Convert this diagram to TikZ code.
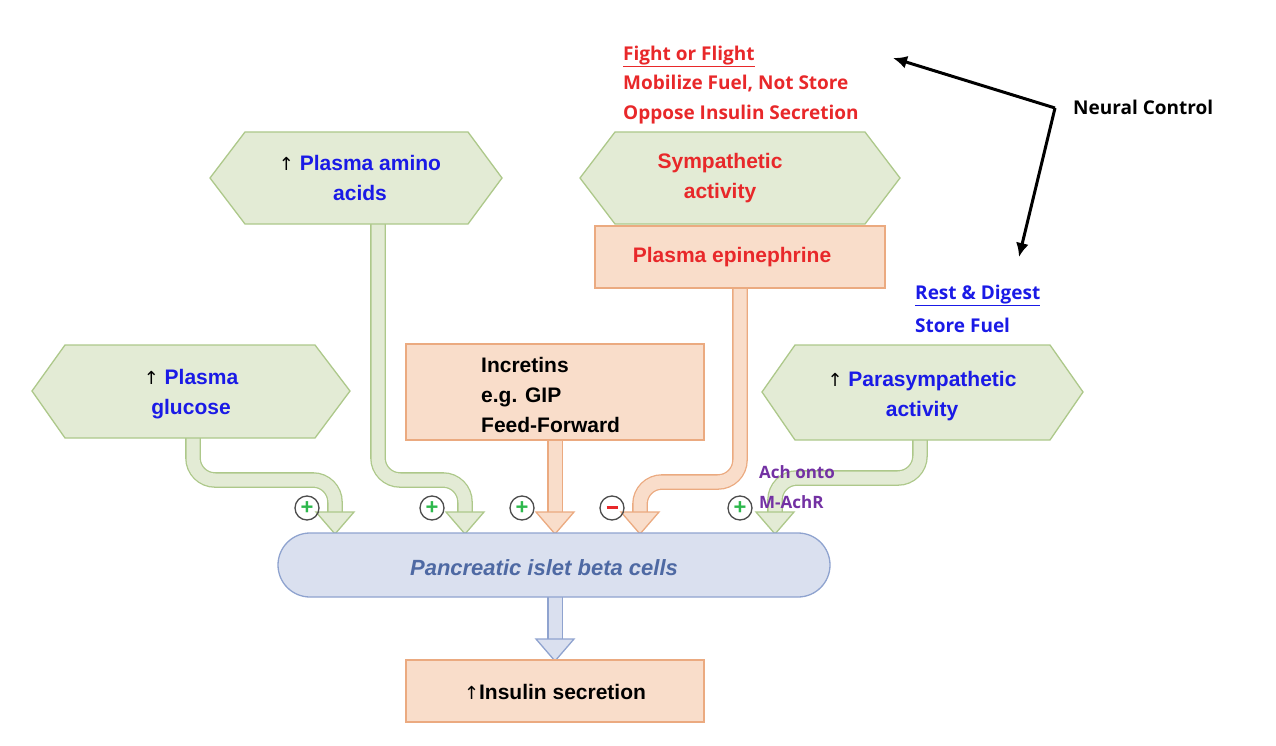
\documentclass[tikz,border=0pt]{standalone}
\usetikzlibrary{arrows.meta}
\usepackage{fontspec}
\setmainfont{Liberation Sans}
\newfontfamily\osans{Open Sans}
\newfontfamily\djv{DejaVu Sans}
\begin{document}
\begin{tikzpicture}[x=1pt,y=-1pt,
  txt/.style={font=\fontsize{21}{30}\selectfont\bfseries,align=center,inner sep=0},
  otxt/.style={font=\osans\fontsize{19}{29.5}\selectfont\bfseries,align=left,inner sep=0,anchor=west},
  grn/.style={fill=gfill,draw=gline,line width=1.3pt},
  org/.style={fill=ofill,draw=oline,line width=1.3pt},
  gshaft/.style={draw=gline,double=gfill,double distance=13pt,line width=1.3pt,rounded corners=22pt},
  oshaft/.style={draw=oline,double=ofill,double distance=13pt,line width=1.3pt,rounded corners=22pt},
  sgn/.style={circle,draw=black!70,line width=1.3pt,minimum size=24pt,inner sep=0}]
\definecolor{gfill}{HTML}{E3EBD5}\definecolor{gline}{HTML}{ADC88A}
\definecolor{ofill}{HTML}{F9DDCA}\definecolor{oline}{HTML}{EBAA80}
\definecolor{bfill}{HTML}{DAE0EF}\definecolor{bline}{HTML}{8FA3CF}
\definecolor{tblue}{HTML}{1A1AE6}\definecolor{tred}{HTML}{E8282A}
\definecolor{tpurp}{HTML}{7331A3}\definecolor{btxt}{HTML}{4E69A3}
\definecolor{pgreen}{HTML}{2DB84C}
\useasboundingbox (0,0) rectangle (1276,746);
% shafts
\draw[gshaft] (193,438) -- (193,480) -- (335,480) -- (335,516);
\draw[gshaft] (378,224) -- (378,480) -- (465,480) -- (465,516);
\draw[oshaft] (555,440) -- (555,516);
\draw[oshaft] (740,288) -- (740,482) -- (640,482) -- (640,516);
\draw[gshaft] (920,440) -- (920,478) -- (775,478) -- (775,516);
\draw[draw=bline,double=bfill,double distance=13pt,line width=1.3pt] (555,597) -- (555,643);
% heads
\foreach \x/\f/\l in {335/gfill/gline,465/gfill/gline,555/ofill/oline,640/ofill/oline,775/gfill/gline}
  \filldraw[fill=\f,draw=\l,line width=1.3pt] (\x-19,512) -- (\x+19,512) -- (\x,534) -- cycle;
\filldraw[fill=bfill,draw=bline,line width=1.3pt] (536,639) -- (574,639) -- (555,661) -- cycle;
% shapes
\draw[grn] (32,391) -- (65,345) -- (315,345) -- (350,391) -- (315,438) -- (65,438) -- cycle;
\draw[grn] (210,178) -- (245,132) -- (468,132) -- (502,178) -- (468,224) -- (245,224) -- cycle;
\draw[grn] (580,178) -- (615,132) -- (865,132) -- (900,178) -- (865,224) -- (615,224) -- cycle;
\draw[grn] (762,392) -- (795,345) -- (1050,345) -- (1083,392) -- (1050,440) -- (795,440) -- cycle;
\draw[org] (595,226) rectangle (885,288);
\draw[org] (406,344) rectangle (704,440);
\draw[org] (406,660) rectangle (704,722);
\draw[fill=bfill,draw=bline,line width=1.3pt,rounded corners=32pt] (278,533) rectangle (830,597);
% texts
\node[txt] (glu) at (191,394) {{\djv\mdseries\fontsize{18}{20}\selectfont↑} \textcolor{tblue}{Plasma}\\\textcolor{tblue}{glucose}};
\node[txt] (ami) at (360,178) {{\djv\mdseries\fontsize{18}{20}\selectfont↑} \textcolor{tblue}{Plasma amino}\\\textcolor{tblue}{acids}};
\node[txt,text=tred] (sym) at (720,178) {Sympathetic\\activity};
\node[txt,text=tred] (epi) at (732,257) {Plasma epinephrine};
\node[txt,align=left,anchor=west] (inc) at (481,395) {Incretins\\e.g. GIP\\Feed-Forward};
\node[txt] (par) at (922,396) {{\djv\mdseries\fontsize{18}{20}\selectfont↑} \textcolor{tblue}{Parasympathetic}\\\textcolor{tblue}{activity}};
\node[txt,text=btxt,font=\fontsize{22}{25}\selectfont\bfseries\itshape] (beta) at (544,568) {Pancreatic islet beta cells};
\node[txt] (ins) at (555,692) {{\djv\mdseries\fontsize{18}{20}\selectfont↑}Insulin secretion};
\node[otxt,text=tred] (fight) at (623,85) {\underline{Fight or Flight}\\Mobilize Fuel, Not Store\\Oppose Insulin Secretion};
\node[otxt,text=tblue,font=\osans\fontsize{19}{33}\selectfont\bfseries] (rest) at (915,309) {\underline{Rest \& Digest}\\Store Fuel};
\node[otxt,text=tpurp,font=\osans\fontsize{17}{30}\selectfont\bfseries] (ach) at (759,487) {Ach onto\\M-AchR};
\node[otxt,font=\osans\fontsize{19}{24}\selectfont\bfseries] (neural) at (1073,107) {Neural Control};
\coordinate (nc) at (1055,108);
\draw[line width=3pt,-{Latex[length=14pt,width=13pt]}] (nc) -- (893,58);
\draw[line width=3pt,-{Latex[length=14pt,width=13pt]}] (nc) -- (1019,257);
% signs
\foreach \x/\n in {307/s1,432/s2,522/s3,740/s5}
  \node[sgn] (\n) at (\x,508) {\textcolor{pgreen}{\bfseries\fontsize{22}{22}\selectfont+}};
\node[sgn] (s4) at (612,508) {\textcolor{tred}{\rule[1pt]{11pt}{3.5pt}}};
\end{tikzpicture}
\end{document}
